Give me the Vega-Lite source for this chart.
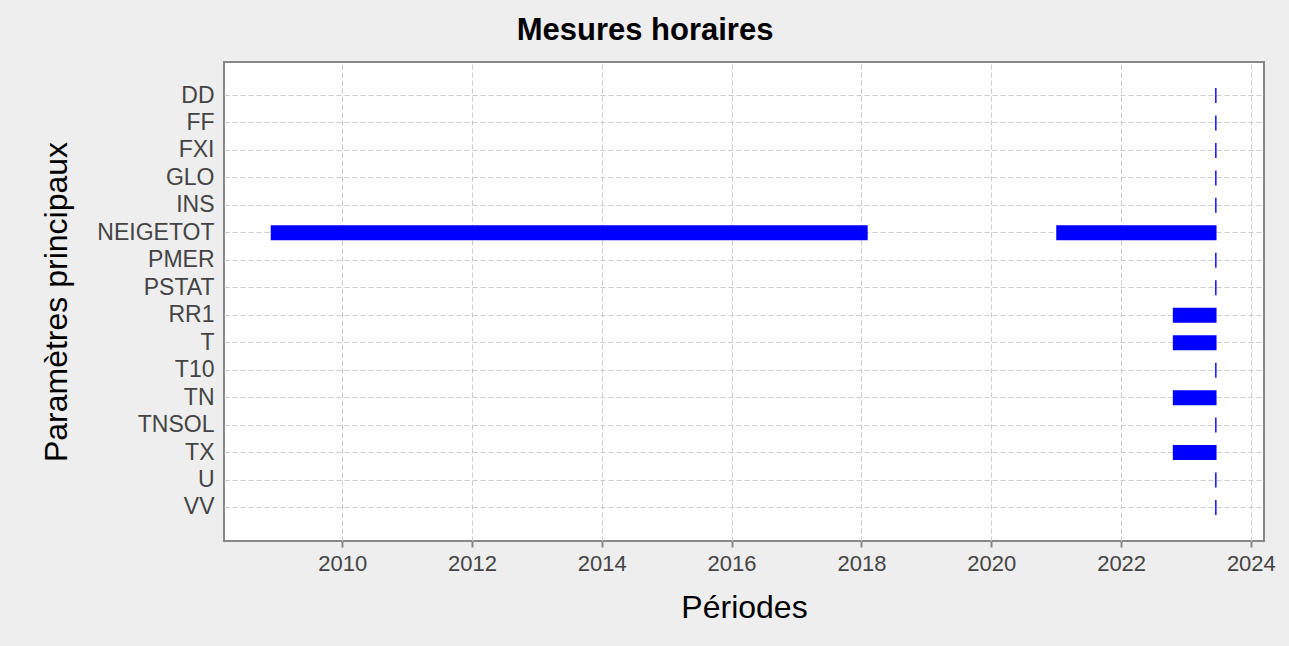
{
  "$schema": "https://vega.github.io/schema/vega-lite/v6.json",
  "autosize": "none",
  "width": 1040,
  "height": 479,
  "padding": {"left": 224, "top": 62, "right": 25, "bottom": 105},
  "background": "#eeeeee",
  "title": {
    "text": "Mesures horaires",
    "font": "Liberation Sans",
    "fontSize": 31,
    "fontWeight": "bold",
    "color": "#000000",
    "anchor": "middle",
    "dx": -99,
    "offset": 15
  },
  "config": {
    "view": {"fill": "#ffffff", "stroke": "#888888", "strokeWidth": 2},
    "font": "Liberation Sans"
  },
  "data": {
    "values": [
      {"param": "DD", "start": "2023-06-14", "end": "2023-06-22"},
      {"param": "FF", "start": "2023-06-14", "end": "2023-06-22"},
      {"param": "FXI", "start": "2023-06-14", "end": "2023-06-22"},
      {"param": "GLO", "start": "2023-06-14", "end": "2023-06-22"},
      {"param": "INS", "start": "2023-06-14", "end": "2023-06-22"},
      {"param": "NEIGETOT", "start": "2008-11-25", "end": "2018-02-05"},
      {"param": "NEIGETOT", "start": "2021-01-01", "end": "2023-06-22"},
      {"param": "PMER", "start": "2023-06-14", "end": "2023-06-22"},
      {"param": "PSTAT", "start": "2023-06-14", "end": "2023-06-22"},
      {"param": "RR1", "start": "2022-10-19", "end": "2023-06-22"},
      {"param": "T", "start": "2022-10-19", "end": "2023-06-22"},
      {"param": "T10", "start": "2023-06-14", "end": "2023-06-22"},
      {"param": "TN", "start": "2022-10-19", "end": "2023-06-22"},
      {"param": "TNSOL", "start": "2023-06-14", "end": "2023-06-22"},
      {"param": "TX", "start": "2022-10-19", "end": "2023-06-22"},
      {"param": "U", "start": "2023-06-14", "end": "2023-06-22"},
      {"param": "VV", "start": "2023-06-14", "end": "2023-06-22"}
    ]
  },
  "mark": {"type": "bar", "color": "#0000ff", "size": 15},
  "encoding": {
    "y": {
      "field": "param",
      "type": "nominal",
      "sort": null,
      "scale": {"paddingInner": 0, "paddingOuter": 0.72},
      "axis": {
        "title": "Paramètres principaux",
        "titleFontSize": 32,
        "titleFontWeight": "normal",
        "titleColor": "#000000",
        "titlePadding": 23,
        "labelFontSize": 23,
        "labelColor": "#444444",
        "labelPadding": 10,
        "ticks": false,
        "domain": false,
        "grid": true,
        "bandPosition": 0.5,
        "gridColor": "#cccccc",
        "gridDash": [5, 3],
        "gridWidth": 1
      }
    },
    "x": {
      "field": "start",
      "type": "temporal",
      "scale": {"type": "utc", "domain": ["2008-03-07", "2024-03-15"], "nice": false},
      "axis": {
        "title": "Périodes",
        "titleFontSize": 32,
        "titleFontWeight": "normal",
        "titleColor": "#000000",
        "titlePadding": 18,
        "labelFontSize": 22,
        "labelColor": "#444444",
        "labelPadding": 6,
        "format": "%Y",
        "tickCount": {"interval": "year", "step": 2},
        "ticks": true,
        "tickSize": 6,
        "tickWidth": 2,
        "tickColor": "#888888",
        "domain": false,
        "grid": true,
        "gridColor": "#cccccc",
        "gridDash": [5, 3],
        "gridWidth": 1
      }
    },
    "x2": {"field": "end"}
  }
}
